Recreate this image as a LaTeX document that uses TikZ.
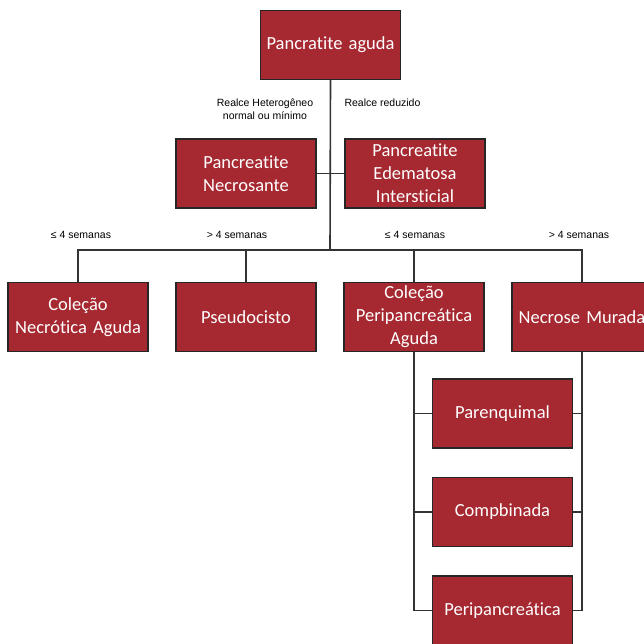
\documentclass[tikz,border=0pt]{standalone}
\usepackage{fontspec}
\setmainfont{Carlito}[Ligatures=NoCommon, WordSpace=0.7]
\newfontfamily\labelfont{Liberation Sans}
\usetikzlibrary{positioning}
\definecolor{boxred}{RGB}{166,41,50}
\tikzset{
  caixa/.style={draw=black!85, line width=1.3pt, fill=boxred, text=white, minimum width=140pt, minimum height=69pt, text width=136pt, align=center, inner sep=0pt, font=\fontsize{18.5}{23}\selectfont},
  rotulo/.style={font=\labelfont\fontsize{10.5}{13}\selectfont, align=center},
  linha/.style={draw=black!80, line width=1.6pt}
}

\begin{document}
\begin{tikzpicture}[x=1pt,y=-1pt]
\useasboundingbox (0,0) rectangle (643,644);

\node[caixa] (PA) at (330.5,45) {Pancratite aguda};

\node[caixa] (PN) at (246,173.5) {Pancreatite\\Necrosante};
\node[caixa] (PE) [right=27.7pt of PN] {Pancreatite\\Edematosa\\Intersticial};

\node[caixa] (C1) at (78,317) {Coleção\\Necrótica Aguda};
\node[caixa] (C2) [right=26.7pt of C1] {Pseudocisto};
\node[caixa] (C3) [right=26.7pt of C2] {Coleção\\Peripancreática\\Aguda};
\node[caixa] (C4) [right=26.7pt of C3] {Necrose Murada};

\node[caixa] (P1) at (502.5,413.5) {Parenquimal};
\node[caixa] (P2) [below=28.2pt of P1] {Compbinada};
\node[caixa] (P3) [below=28.2pt of P2] {Peripancreática};

\node[rotulo] (RH) at (265,109.5) {Realce Heterogêneo\\normal ou mínimo};
\node[rotulo, anchor=west] (RR) at (341,103) {Realce reduzido};
\node[rotulo] (S1) at (81,235) {≤ 4 semanas};
\node[rotulo] (S2) at (237,235) {> 4 semanas};
\node[rotulo] (S3) at (415,235) {≤ 4 semanas};
\node[rotulo] (S4) at (579,235) {> 4 semanas};

\coordinate (bus) at (330,250);

\draw[linha] (PA.south) -- (bus);
\draw[linha] (PN.east) -- (PE.west);
\draw[linha] (C1.north) |- (bus) -| (C4.north);
\draw[linha] (C2.north) -- (C2.north |- bus);
\draw[linha] (C3.north) -- (C3.north |- bus);

\draw[linha] (C3.south) |- (P3.west);
\draw[linha] (C4.south) |- (P3.east);
\draw[linha] (P1.west) -- (P1.west -| C3.south);
\draw[linha] (P2.west) -- (P2.west -| C3.south);
\draw[linha] (P1.east) -- (P1.east -| C4.south);
\draw[linha] (P2.east) -- (P2.east -| C4.south);

\end{tikzpicture}
\end{document}
